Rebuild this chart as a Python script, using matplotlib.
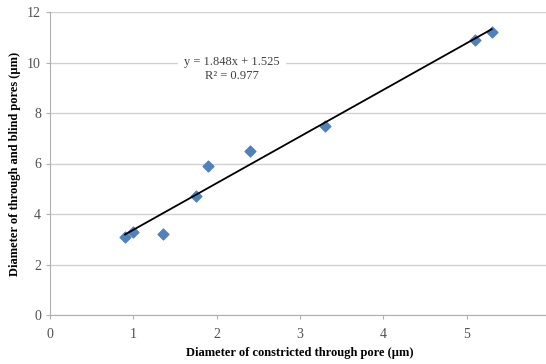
import matplotlib.pyplot as plt
import numpy as np

# Data
constricted = [0.9, 1.0, 1.35, 1.75, 1.9, 2.4, 3.3, 5.1, 5.3]
through_blind = [3.1, 3.3, 3.2, 4.7, 5.9, 6.5, 7.5, 10.9, 11.2]
slope, intercept = 1.848, 1.525
x_ticks = [0, 1, 2, 3, 4, 5, 6]
y_ticks = [0, 2, 4, 6, 8, 10, 12]

plt.rcParams['font.family'] = ['Liberation Serif', 'DejaVu Serif']

fig = plt.figure(figsize=(5.46, 3.64), dpi=100)
ax = fig.add_axes([50 / 546, 49 / 364, 500 / 546, 303 / 364])

# Horizontal gridlines and axes in Excel-like grey
ax.set_axisbelow(True)
ax.grid(axis='y', color='#d0d0d0', linewidth=1)
for side in ['top', 'right']:
    ax.spines[side].set_visible(False)
for side in ['left', 'bottom']:
    ax.spines[side].set_color('#b0b0b0')

ax.scatter(constricted, through_blind, marker='D', s=30, color='#4f81bd', zorder=3)

# Linear trendline over the data range
xs = np.array([min(constricted), max(constricted)])
ax.plot(xs, slope * xs + intercept, color='black', linewidth=1.3, zorder=4)

ax.text(2.18, 10.0, 'y = 1.848x + 1.525', ha='center', va='center', fontsize=9,
        color='#404040', backgroundcolor='white', zorder=5)
ax.text(2.18, 9.45, 'R² = 0.977', ha='center', va='center', fontsize=9,
        color='#404040', zorder=5)

ax.set_xlim(0, 6)
ax.set_ylim(0, 12)
ax.set_xticks(x_ticks)
ax.set_yticks(y_ticks)
ax.tick_params(colors='#b0b0b0', labelcolor='#505050', labelsize=10, length=3)
ax.tick_params(axis='x', pad=6)

ax.set_xlabel('Diameter of constricted through pore (µm)', fontsize=9, fontweight='bold', labelpad=5)
ax.set_ylabel('Diameter of through and blind pores (µm)', fontsize=9, fontweight='bold', labelpad=4)

fig.savefig('out.png', dpi=100)
